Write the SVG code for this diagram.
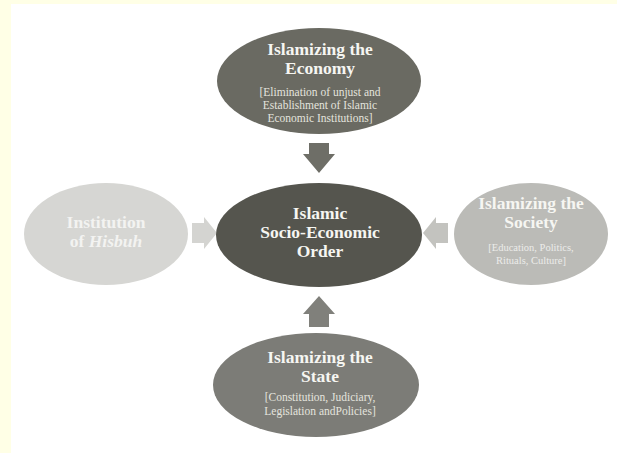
<svg xmlns="http://www.w3.org/2000/svg" width="617" height="453" viewBox="0 0 617 453">
<style>
  .t{font-family:"Liberation Serif","Times New Roman",serif;font-weight:bold;font-size:17.5px;fill:#f6f6f2;text-anchor:middle}
  .s{font-family:"Liberation Serif","Times New Roman",serif;font-size:11.5px;fill:#e4e4de;text-anchor:middle}
</style>
<rect x="0" y="0" width="617" height="453" fill="#ffffe6"/>
<rect x="11" y="4" width="606" height="449" fill="#ffffff"/>
<g id="connectors">
  <polygon points="309,143 329,143 329,154 335,154 319,173 303,154 309,154" fill="#6e6e67"/>
  <polygon points="309,327 329,327 329,314 335,314 319,296 303,314 309,314" fill="#80807b"/>
  <polygon points="192,223 204,223 204,217 217,233 204,249 204,243 192,243" fill="#d4d4d1"/>
  <polygon points="448,223 436,223 436,217 423,233 436,249 436,243 448,243" fill="#c3c3bf"/>
</g>
<g id="economy">
  <ellipse cx="319" cy="81" rx="102" ry="53" fill="#6a6a62"/>
  <text class="t" x="320" y="55">Islamizing the</text>
  <text class="t" x="320" y="74">Economy</text>
  <text class="s" x="320" y="96">[Elimination of unjust and</text>
  <text class="s" x="320" y="109">Establishment of Islamic</text>
  <text class="s" x="320" y="122">Economic Institutions]</text>
</g>
<g id="order">
  <ellipse cx="319" cy="235" rx="103" ry="52" fill="#55554e"/>
  <text class="t" x="320" y="219">Islamic</text>
  <text class="t" x="320" y="238">Socio-Economic</text>
  <text class="t" x="320" y="257">Order</text>
</g>
<g id="hisbuh">
  <ellipse cx="106" cy="234" rx="82" ry="51" fill="#d6d6d3"/>
  <text class="t" x="106" y="228" style="fill:#f3f3f1">Institution</text>
  <text class="t" x="106" y="247" style="fill:#f3f3f1">of <tspan font-style="italic">Hisbuh</tspan></text>
</g>
<g id="society">
  <ellipse cx="531" cy="234" rx="77" ry="51" fill="#bbbbb7"/>
  <text class="t" x="531" y="209">Islamizing the</text>
  <text class="t" x="531" y="228">Society</text>
  <text class="s" x="531" y="251" style="font-size:10.5px;fill:#ececea">[Education, Politics,</text>
  <text class="s" x="531" y="264" style="font-size:10.5px;fill:#ececea">Rituals, Culture]</text>
</g>
<g id="state">
  <ellipse cx="316" cy="385" rx="103" ry="52" fill="#7c7c77"/>
  <text class="t" x="320" y="363">Islamizing the</text>
  <text class="t" x="320" y="382">State</text>
  <text class="s" x="320" y="401">[Constitution, Judiciary,</text>
  <text class="s" x="320" y="415">Legislation andPolicies]</text>
</g>
</svg>
